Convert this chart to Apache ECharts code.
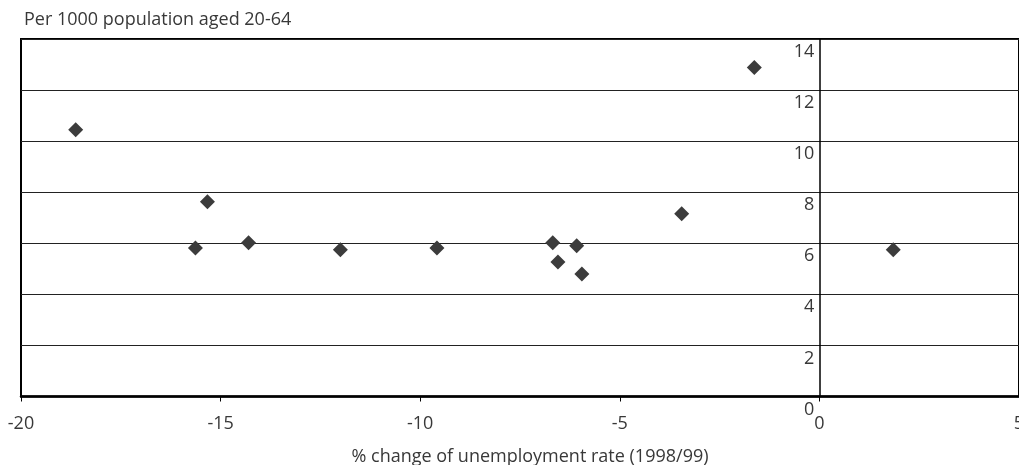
<!DOCTYPE html>
<html><head><meta charset="utf-8">
<script src="https://cdn.jsdelivr.net/npm/echarts@6/dist/echarts.min.js"></script>
<style>html,body{margin:0;padding:0;background:#fff}#c{width:1019px;height:465px}</style>
</head><body><div id="c"></div>
<script>
const titleText = "Per 1000 population aged 20-64";
const xTitle = "% change of unemployment rate (1998/99)";
const xChange = [-18.63, -15.33, -15.63, -14.30, -12.00, -9.58, -6.68, -6.55, -6.08, -5.95, -3.45, -1.63, 1.85];
const yRate   = [10.45, 7.63, 5.82, 6.02, 5.75, 5.82, 6.02, 5.27, 5.90, 4.80, 7.16, 12.88, 5.75];
const xTicks = [-20, -15, -10, -5, 0, 5];
const yTicks = [0, 2, 4, 6, 8, 10, 12, 14];

const FONT = "Open Sans";
const GRID = {left: 21, right: 0, top: 39, bottom: 68.5};
const W = 1019;
const gridW = W - GRID.left - GRID.right;
const xMin = xTicks[0], xMax = xTicks[xTicks.length - 1];
// place the y axis where x = 0 (inward offset from the left edge)
const yAxisOffset = -((0 - xMin) / (xMax - xMin)) * gridW;

const points = xChange.map((x, i) => [x, yRate[i]]);
const chart = echarts.init(document.getElementById('c'));
chart.setOption({
  animation: false,
  backgroundColor: '#fff',
  title: {
    text: titleText, left: 19, top: 6,
    textStyle: {fontFamily: FONT, fontSize: 18, fontWeight: 'normal', color: '#383838'}
  },
  grid: Object.assign({outerBoundsMode: 'none', containLabel: false, show: true, borderColor: '#000', borderWidth: 2, backgroundColor: 'transparent'}, GRID),
  xAxis: {
    type: 'value', min: xMin, max: xMax, interval: 5,
    name: xTitle, nameLocation: 'middle', nameGap: 51,
    nameTextStyle: {fontFamily: FONT, fontSize: 18, color: '#383838', padding: [0, 0, 0, 20]},
    axisLine: {show: true, onZero: false, lineStyle: {color: '#000', width: 2.5}},
    axisTick: {show: true, length: 5, lineStyle: {color: '#000', width: 1}},
    axisLabel: {fontFamily: FONT, fontSize: 18, color: '#383838', margin: 18, formatter: v => String(v)},
    splitLine: {show: false}
  },
  yAxis: {
    type: 'value', min: yTicks[0], max: yTicks[yTicks.length - 1], interval: 2,
    offset: yAxisOffset,
    axisLine: {show: true, onZero: false, lineStyle: {color: '#000', width: 1.5}},
    axisTick: {show: false},
    axisLabel: {fontFamily: FONT, fontSize: 18, color: '#383838', margin: 5, verticalAlign: 'top', padding: [4, 0, 0, 0], showMinLabel: true, showMaxLabel: true},
    splitLine: {show: true, lineStyle: {color: '#222', width: 1}}
  },
  series: [{
    type: 'scatter', data: points, symbol: 'diamond', symbolSize: [15, 15],
    itemStyle: {color: '#3c3c3c', opacity: 1}
  }]
});
</script></body></html>
